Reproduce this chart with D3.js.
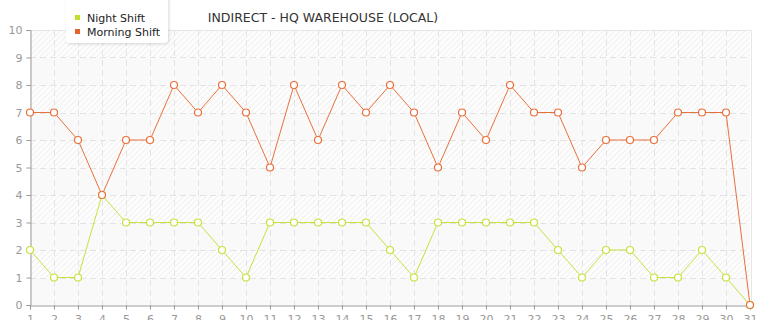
<!DOCTYPE html>
<html>
<head>
<meta charset="utf-8">
<script src="https://cdn.jsdelivr.net/npm/d3@7"></script>
<style>
  body { margin: 0; background: #fff; }
  svg { display: block; font-family: "DejaVu Sans", Verdana, sans-serif; }
</style>
</head>
<body>
<div class="chart"></div>
<script>
const days = d3.range(1, 32);
const nightShift = [2, 1, 1, 4, 3, 3, 3, 3, 2, 1, 3, 3, 3, 3, 3, 2, 1, 3, 3, 3, 3, 3, 2, 1, 2, 2, 1, 1, 2, 1, 0];
const morningShift = [7, 7, 6, 4, 6, 6, 8, 7, 8, 7, 5, 8, 6, 8, 7, 8, 7, 5, 7, 6, 8, 7, 7, 5, 6, 6, 6, 7, 7, 7, 0];
const yTicks = d3.range(0, 11);
const seriesNames = ["Night Shift", "Morning Shift"];
const lineColors = ["#c6e23c", "#e8703c"];
const legendColors = ["#bfe02a", "#e2632c"];

const width = 765;
const height = 320;

const svg = d3
  .select(".chart")
  .append("svg")
  .attr("width", width)
  .attr("height", height);

const xScale = d3.scaleLinear().domain([1, 31]).range([30, 750]);
const yScale = d3.scaleLinear().domain([0, 10]).range([305, 30]);

// hatch pattern for the background bands
const defs = svg.append("defs");
const pattern = defs
  .append("pattern")
  .attr("id", "hatch")
  .attr("patternUnits", "userSpaceOnUse")
  .attr("width", 4)
  .attr("height", 4)
  .attr("patternTransform", "rotate(45)");
pattern.append("rect").attr("width", 4).attr("height", 4).attr("fill", "#fdfdfd");
pattern
  .append("line")
  .attr("x1", 0)
  .attr("y1", 0)
  .attr("x2", 0)
  .attr("y2", 4)
  .attr("stroke", "#ececec")
  .attr("stroke-width", 1.5);

const shadow = defs.append("filter").attr("id", "shadow").attr("x", "-20%").attr("y", "-30%").attr("width", "140%").attr("height", "170%");
shadow.append("feDropShadow").attr("dx", 1).attr("dy", 1).attr("stdDeviation", 1.5).attr("flood-color", "#000").attr("flood-opacity", 0.15);

// bands
svg
  .append("g")
  .selectAll("rect")
  .data(yTicks.slice(0, -1))
  .enter()
  .append("rect")
  .attr("x", xScale(1))
  .attr("y", (d) => yScale(d + 1))
  .attr("width", xScale(31) - xScale(1))
  .attr("height", (d) => yScale(d) - yScale(d + 1))
  .attr("fill", (d) => (d % 2 == 1 ? "url(#hatch)" : "#f9f9f9"));

// border top/right
svg
  .append("path")
  .attr("d", `M${xScale(1)},${yScale(10) + 0.5}H${xScale(31) + 1.5}V${yScale(0)}`)
  .attr("fill", "none")
  .attr("stroke", "#e6e6e6");

// grid lines
svg
  .append("g")
  .selectAll("line")
  .data(yTicks.slice(1, -1))
  .enter()
  .append("line")
  .attr("x1", xScale(1))
  .attr("x2", xScale(31))
  .attr("y1", (d) => Math.round(yScale(d)) + 0.5)
  .attr("y2", (d) => Math.round(yScale(d)) + 0.5)
  .attr("stroke", "#e3e3e3")
  .attr("stroke-dasharray", "6,4");

svg
  .append("g")
  .selectAll("line")
  .data(days.slice(1, -1))
  .enter()
  .append("line")
  .attr("x1", (d) => xScale(d) + 0.5)
  .attr("x2", (d) => xScale(d) + 0.5)
  .attr("y1", yScale(10))
  .attr("y2", yScale(0))
  .attr("stroke", "#e3e3e3")
  .attr("stroke-dasharray", "6,4");

// axes
const yAxis = svg
  .append("g")
  .attr("transform", `translate(${xScale(1) + 0.5},0)`)
  .call(d3.axisLeft(yScale).tickValues(yTicks).tickSize(4).tickPadding(4));

const xAxis = svg
  .append("g")
  .attr("transform", `translate(0,${yScale(0) + 0.5})`)
  .call(d3.axisBottom(xScale).tickValues(days).tickSize(4).tickPadding(6));

[xAxis, yAxis].forEach((axis) => {
  axis.select(".domain").attr("stroke", "#999");
  axis.selectAll(".tick line").attr("stroke", "#999");
  axis
    .selectAll(".tick text")
    .attr("fill", "#999")
    .attr("font-size", "11px")
    .attr("font-family", "DejaVu Sans, Verdana, sans-serif");
});

// lines and markers
const series = [nightShift, morningShift];
const line = d3
  .line()
  .x((d, i) => xScale(days[i]))
  .y((d) => yScale(d));

series.forEach((values, s) => {
  svg
    .append("path")
    .datum(values)
    .attr("d", line)
    .attr("fill", "none")
    .attr("stroke", lineColors[s])
    .attr("stroke-width", 1);

  svg
    .append("g")
    .selectAll("circle")
    .data(values)
    .enter()
    .append("circle")
    .attr("cx", (d, i) => xScale(days[i]))
    .attr("cy", (d) => yScale(d))
    .attr("r", 3.5)
    .attr("fill", "#fff")
    .attr("stroke", lineColors[s])
    .attr("stroke-width", 1.2);
});

// legend
const legend = svg.append("g");
legend
  .append("rect")
  .attr("x", 66)
  .attr("y", -6)
  .attr("width", 102)
  .attr("height", 49)
  .attr("rx", 4)
  .attr("fill", "#fff")
  .attr("filter", "url(#shadow)");

seriesNames.forEach((name, i) => {
  legend
    .append("rect")
    .attr("x", 75)
    .attr("y", 15 + i * 14)
    .attr("width", 5)
    .attr("height", 5)
    .attr("fill", legendColors[i]);
  legend
    .append("text")
    .attr("x", 87)
    .attr("y", 22 + i * 14)
    .attr("font-size", "11px")
    .attr("fill", "#222")
    .text(name);
});

// title
svg
  .append("text")
  .attr("x", 323)
  .attr("y", 22)
  .attr("text-anchor", "middle")
  .attr("font-size", "12.5px")
  .attr("fill", "#333")
  .text("INDIRECT - HQ WAREHOUSE (LOCAL)");
</script>
</body>
</html>
